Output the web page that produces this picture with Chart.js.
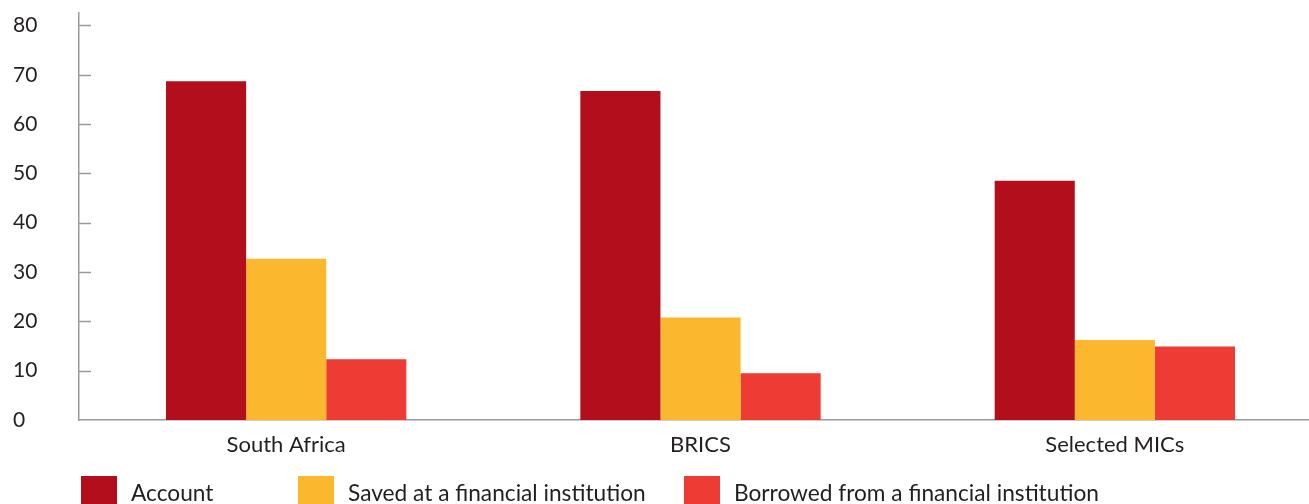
<!DOCTYPE html>
<html>
<head>
<meta charset="utf-8">
<script src="https://cdn.jsdelivr.net/npm/chart.js@4/dist/chart.umd.min.js"></script>
<style>
    html, body { margin: 0; padding: 0; background: #fff; overflow: hidden; }
    #wrap { position: relative; width: 1322px; height: 504px; }
</style>
</head>
<body>
<div id="wrap"><canvas id="chart"></canvas></div>
<script>
// data
var categories = ['South Africa', 'BRICS', 'Selected MICs'];
var seriesNames = ['Account', 'Saved at a financial institution', 'Borrowed from a financial institution'];
var accountValues = [68.7, 66.7, 48.5];
var savedValues = [32.7, 20.8, 16.2];
var borrowedValues = [12.3, 9.5, 14.9];
var yTicks = [0, 10, 20, 30, 40, 50, 60, 70, 80];

var colors = ['#b20e1c', '#fbb82f', '#ee3b34'];
var axisColor = '#9a9a9c';
var textColor = '#231f20';
var fontFamily = 'Lato, "Open Sans", sans-serif';

/**
 * Short tick marks drawn on the inside of the y axis
 */
var innerTicks = {
    id: 'innerTicks',
    afterDatasetsDraw: function(chart) {
        var ctx = chart.ctx;
        var y = chart.scales.y;
        var x0 = chart.chartArea.left;
        ctx.save();
        ctx.strokeStyle = axisColor;
        ctx.lineWidth = 1.5;
        yTicks.forEach(function(v) {
            if (v === 0) return;
            var py = Math.round(y.getPixelForValue(v)) + 0.5;
            ctx.beginPath();
            ctx.moveTo(x0, py);
            ctx.lineTo(x0 + 12, py);
            ctx.stroke();
        });
        ctx.restore();
    }
};

/**
 * Legend along the bottom edge (cut off like the original)
 */
var bottomLegend = {
    id: 'bottomLegend',
    afterDraw: function(chart, args, opts) {
        var ctx = chart.ctx;
        ctx.save();
        ctx.font = opts.font;
        ctx.textBaseline = 'alphabetic';
        chart.data.datasets.forEach(function(ds, i) {
            var x = opts.positions[i];
            ctx.fillStyle = ds.backgroundColor;
            ctx.fillRect(x, opts.top, 36, 40);
            ctx.fillStyle = textColor;
            ctx.fillText(ds.label, x + 50, opts.baseline);
        });
        ctx.restore();
    }
};

var ctx = document.getElementById('chart').getContext('2d');

var chart = new Chart(ctx, {
    type: 'bar',
    data: {
        labels: categories,
        datasets: [{
            label: seriesNames[0],
            data: accountValues,
            backgroundColor: colors[0]
        }, {
            label: seriesNames[1],
            data: savedValues,
            backgroundColor: colors[1]
        }, {
            label: seriesNames[2],
            data: borrowedValues,
            backgroundColor: colors[2]
        }]
    },
    options: {
        responsive: true,
        maintainAspectRatio: false,
        animation: false,
        datasets: {
            bar: {
                categoryPercentage: 0.58,
                barPercentage: 1,
                borderWidth: 0
            }
        },
        layout: {
            padding: { left: 13, right: 0, top: 11, bottom: 0 }
        },
        plugins: {
            legend: { display: false },
            tooltip: { enabled: false },
            bottomLegend: {
                positions: [81, 298, 684],
                top: 476,
                baseline: 501,
                font: '22.7px ' + fontFamily
            }
        },
        scales: {
            x: {
                grid: { display: false, drawTicks: false },
                border: { display: true, color: axisColor, width: 1.5 },
                ticks: {
                    color: textColor,
                    padding: 12,
                    font: { family: fontFamily, size: 22 }
                },
                afterFit: function(scale) {
                    scale.height = 84;
                }
            },
            y: {
                min: 0,
                max: 82.6,
                grid: { display: false, drawTicks: false },
                border: { display: true, color: axisColor, width: 1.5 },
                ticks: {
                    color: textColor,
                    crossAlign: 'far',
                    padding: 0,
                    font: { family: fontFamily, size: 21 }
                },
                afterBuildTicks: function(scale) {
                    scale.ticks = yTicks.map(function(v) { return { value: v }; });
                },
                afterFit: function(scale) {
                    scale.width = 66;
                }
            }
        }
    },
    plugins: [innerTicks, bottomLegend]
});
</script>
</body>
</html>
